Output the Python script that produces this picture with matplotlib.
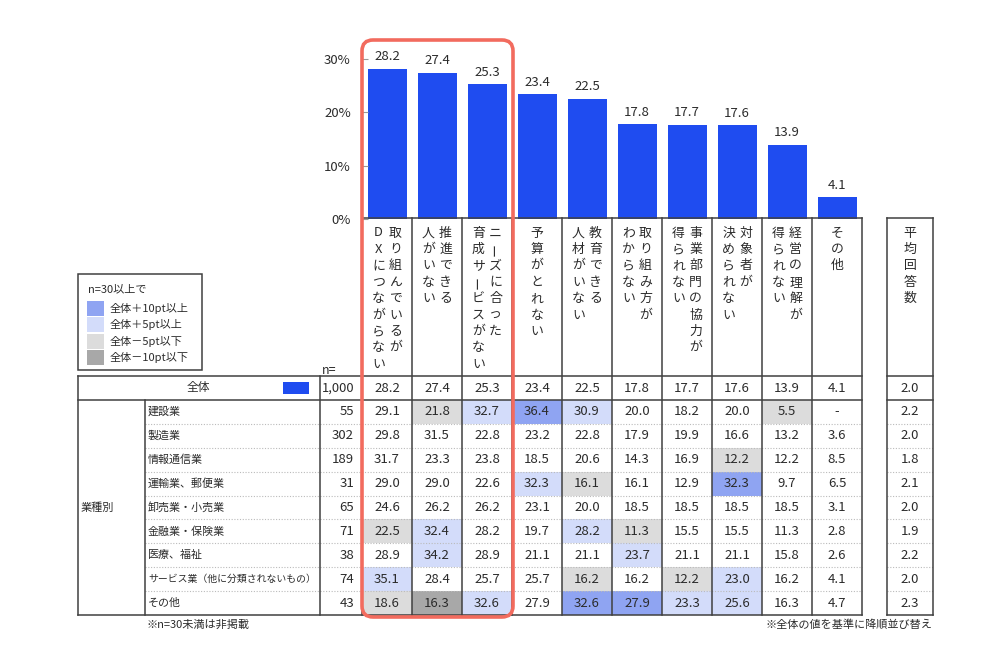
import matplotlib
matplotlib.use("Agg")
import matplotlib.pyplot as plt
from matplotlib.patches import Rectangle, FancyBboxPatch

plt.rcParams['font.family'] = ['Noto Sans CJK JP', 'DejaVu Sans']

# 項目名（縦書き：右の行 / 左の行）
items_right = ["取り組んでいるが", "推進できる", "ニーズに合った", "予算がとれない", "教育できる",
               "取り組み方が", "事業部門の協力が", "対象者が", "経営の理解が", "その他"]
items_left = ["DXにつながらない", "人がいない", "育成サービスがない", "", "人材がいない",
              "わからない", "得られない", "決められない", "得られない", ""]

# 全体
total_values = [28.2, 27.4, 25.3, 23.4, 22.5, 17.8, 17.7, 17.6, 13.9, 4.1]
total_n = 1000
total_avg = 2.0

# 業種別
industries = ["建設業", "製造業", "情報通信業", "運輸業、郵便業", "卸売業・小売業", "金融業・保険業",
              "医療、福祉", "サービス業（他に分類されないもの）", "その他"]
industry_n = [55, 302, 189, 31, 65, 71, 38, 74, 43]
industry_values = [
    [29.1, 21.8, 32.7, 36.4, 30.9, 20.0, 18.2, 20.0, 5.5, None],
    [29.8, 31.5, 22.8, 23.2, 22.8, 17.9, 19.9, 16.6, 13.2, 3.6],
    [31.7, 23.3, 23.8, 18.5, 20.6, 14.3, 16.9, 12.2, 12.2, 8.5],
    [29.0, 29.0, 22.6, 32.3, 16.1, 16.1, 12.9, 32.3, 9.7, 6.5],
    [24.6, 26.2, 26.2, 23.1, 20.0, 18.5, 18.5, 18.5, 18.5, 3.1],
    [22.5, 32.4, 28.2, 19.7, 28.2, 11.3, 15.5, 15.5, 11.3, 2.8],
    [28.9, 34.2, 28.9, 21.1, 21.1, 23.7, 21.1, 21.1, 15.8, 2.6],
    [35.1, 28.4, 25.7, 25.7, 16.2, 16.2, 12.2, 23.0, 16.2, 4.1],
    [18.6, 16.3, 32.6, 27.9, 32.6, 27.9, 23.3, 25.6, 16.3, 4.7],
]
industry_avg = [2.2, 2.0, 1.8, 2.1, 2.0, 1.9, 2.2, 2.0, 2.3]

legend_labels = ["全体＋10pt以上", "全体＋5pt以上", "全体－5pt以下", "全体－10pt以下"]

# 色
BAR = "#1f4cf0"
C_UP10, C_UP5, C_DN5, C_DN10 = "#8fa4f2", "#d3dcfa", "#dcdcdc", "#a8a8a8"
LINE = "#404040"
TXT = "#2b2b2b"
RED = "#f26b5e"


def cell_color(v, base):
    if v is None:
        return None
    d = v - base
    if d >= 10 - 1e-9:
        return C_UP10
    if d >= 5 - 1e-9:
        return C_UP5
    if d <= -10 + 1e-9:
        return C_DN10
    if d <= -5 + 1e-9:
        return C_DN5
    return None


W, H = 1000, 649
fig = plt.figure(figsize=(10, 6.49), dpi=100)

# レイアウト（ピクセル）
col_left, col_w = 362, 50
ncol = len(total_values)
col_right = col_left + col_w * ncol
avg_l, avg_r = 887, 933
tbl_l, cat_x, n_x = 78, 145, 320
head_top, tot_top, tot_bot, tbl_bot = 218, 376, 400, 615
row_h = (tbl_bot - tot_bot) / len(industries)
y_zero, y_top = 219, 43

# 棒グラフ
ax = fig.add_axes([col_left / W, (H - y_zero) / H, (col_right - col_left) / W, (y_zero - y_top) / H])
x = list(range(ncol))
bars = ax.bar(x, total_values, width=0.78, color=BAR)
ax.bar_label(bars, labels=[f"{v:.1f}" for v in total_values], padding=4, fontsize=9.5, color=TXT)
ax.set_xlim(-0.5, ncol - 0.5)
ax.set_ylim(0, 30 * (y_zero - y_top) / 160)
ax.set_yticks([0, 10, 20, 30])
ax.set_yticklabels(["0%", "10%", "20%", "30%"], fontsize=9.5, color=TXT)
ax.tick_params(axis="y", direction="in", length=4, color="#999999", pad=8)
ax.set_xticks([])
for s in ax.spines.values():
    s.set_visible(False)
ax.patch.set_alpha(0)

# 表（ピクセル座標の重ね合わせ）
ov = fig.add_axes([0, 0, 1, 1], zorder=5)
ov.set_xlim(0, W)
ov.set_ylim(H, 0)
ov.axis("off")
ov.patch.set_alpha(0)

# 強調セル
for r, row in enumerate(industry_values):
    y0 = tot_bot + r * row_h
    for c, v in enumerate(row):
        col = cell_color(v, total_values[c])
        if col:
            ov.add_patch(Rectangle((col_left + c * col_w, y0), col_w, row_h, color=col, lw=0, zorder=1))

# 点線
for r in range(1, len(industries)):
    yy = tot_bot + r * row_h
    ov.plot([cat_x, col_right], [yy, yy], color="#bbbbbb", lw=0.8, ls=(0, (1, 1.5)), zorder=2)
    ov.plot([avg_l, avg_r], [yy, yy], color="#bbbbbb", lw=0.8, ls=(0, (1, 1.5)), zorder=2)

# 罫線
lk = dict(color=LINE, lw=1.1, zorder=3)
for c in range(ncol + 1):
    xx = col_left + c * col_w
    ov.plot([xx, xx], [head_top, tbl_bot], **lk)
ov.plot([col_left, col_right], [head_top, head_top], **lk)
for yy in [tot_top, tot_bot, tbl_bot]:
    ov.plot([tbl_l, col_right], [yy, yy], **lk)
    ov.plot([avg_l, avg_r], [yy, yy], **lk)
ov.plot([tbl_l, tbl_l], [tot_top, tbl_bot], **lk)
ov.plot([n_x, n_x], [tot_top, tbl_bot], **lk)
ov.plot([cat_x, cat_x], [tot_bot, tbl_bot], **lk)
for xx in [avg_l, avg_r]:
    ov.plot([xx, xx], [head_top, tbl_bot], **lk)
ov.plot([avg_l, avg_r], [head_top, head_top], **lk)

# 縦書きの見出し
ch_step, ch_y0 = 16.4, 233


def vtext(s, xc, fs=9.3):
    for k, ch in enumerate(s):
        rot = 90 if ch == "ー" else 0
        ov.text(xc, ch_y0 + k * ch_step, ch, ha="center", va="center", fontsize=fs,
                color=TXT, rotation=rot, rotation_mode="anchor", zorder=4)


for c in range(ncol):
    xc = col_left + c * col_w + col_w / 2
    if items_left[c]:
        vtext(items_right[c], xc + 8.5)
        vtext(items_left[c], xc - 8.5)
    else:
        vtext(items_right[c], xc)
vtext("平均回答数", (avg_l + avg_r) / 2)

ov.text(n_x + 2, 370, "n=", fontsize=9, color=TXT, ha="left", va="center")

# 全体の行
yc = (tot_top + tot_bot) / 2
ov.text(198, yc, "全体", fontsize=8.5, color=TXT, ha="center", va="center")
ov.add_patch(Rectangle((283, yc - 6), 26, 12, color=BAR, lw=0, zorder=4))
ov.text(354, yc, f"{total_n:,}", fontsize=9.3, color=TXT, ha="right", va="center")
for c, v in enumerate(total_values):
    ov.text(col_left + c * col_w + col_w / 2, yc, f"{v:.1f}", fontsize=9.5, color=TXT,
            ha="center", va="center", zorder=4)
ov.text((avg_l + avg_r) / 2, yc, f"{total_avg:.1f}", fontsize=9.5, color=TXT, ha="center", va="center")

# 業種別の行
ov.text(81, (tot_bot + tbl_bot) / 2, "業種別", fontsize=8, color=TXT, ha="left", va="center")
for r, name in enumerate(industries):
    yc = tot_bot + (r + 0.5) * row_h
    fs = 7.1 if len(name) > 10 else 7.9
    ov.text(148, yc, name, fontsize=fs, color=TXT, ha="left", va="center")
    ov.text(354, yc, f"{industry_n[r]}", fontsize=9.5, color=TXT, ha="right", va="center")
    for c, v in enumerate(industry_values[r]):
        s = "-" if v is None else f"{v:.1f}"
        ov.text(col_left + c * col_w + col_w / 2, yc, s, fontsize=9.5, color=TXT,
                ha="center", va="center", zorder=4)
    ov.text((avg_l + avg_r) / 2, yc, f"{industry_avg[r]:.1f}", fontsize=9.5, color=TXT,
            ha="center", va="center", zorder=4)

# 凡例
ov.add_patch(Rectangle((tbl_l, 274), 124, 96, fill=False, ec=LINE, lw=1.1, zorder=3))
ov.text(88, 289, "n=30以上で", fontsize=8, color=TXT, ha="left", va="center")
for k, (lab, col) in enumerate(zip(legend_labels, [C_UP10, C_UP5, C_DN5, C_DN10])):
    yy = 308 + k * 16.5
    ov.add_patch(Rectangle((87, yy - 7.5), 17, 15, color=col, lw=0, zorder=3))
    ov.text(110, yy, lab, fontsize=8, color=TXT, ha="left", va="center")

# 注記
ov.text(147, 625, "※n=30未満は非掲載", fontsize=8, color=TXT, ha="left", va="center")
ov.text(932, 625, "※全体の値を基準に降順並び替え", fontsize=8, color=TXT, ha="right", va="center")

# 赤枠
ov.add_patch(FancyBboxPatch((362, 40), 151, 577, boxstyle="round,pad=0,rounding_size=11",
                            fill=False, ec=RED, lw=2.6, zorder=6))

fig.savefig("out.png", dpi=100, facecolor="white")
